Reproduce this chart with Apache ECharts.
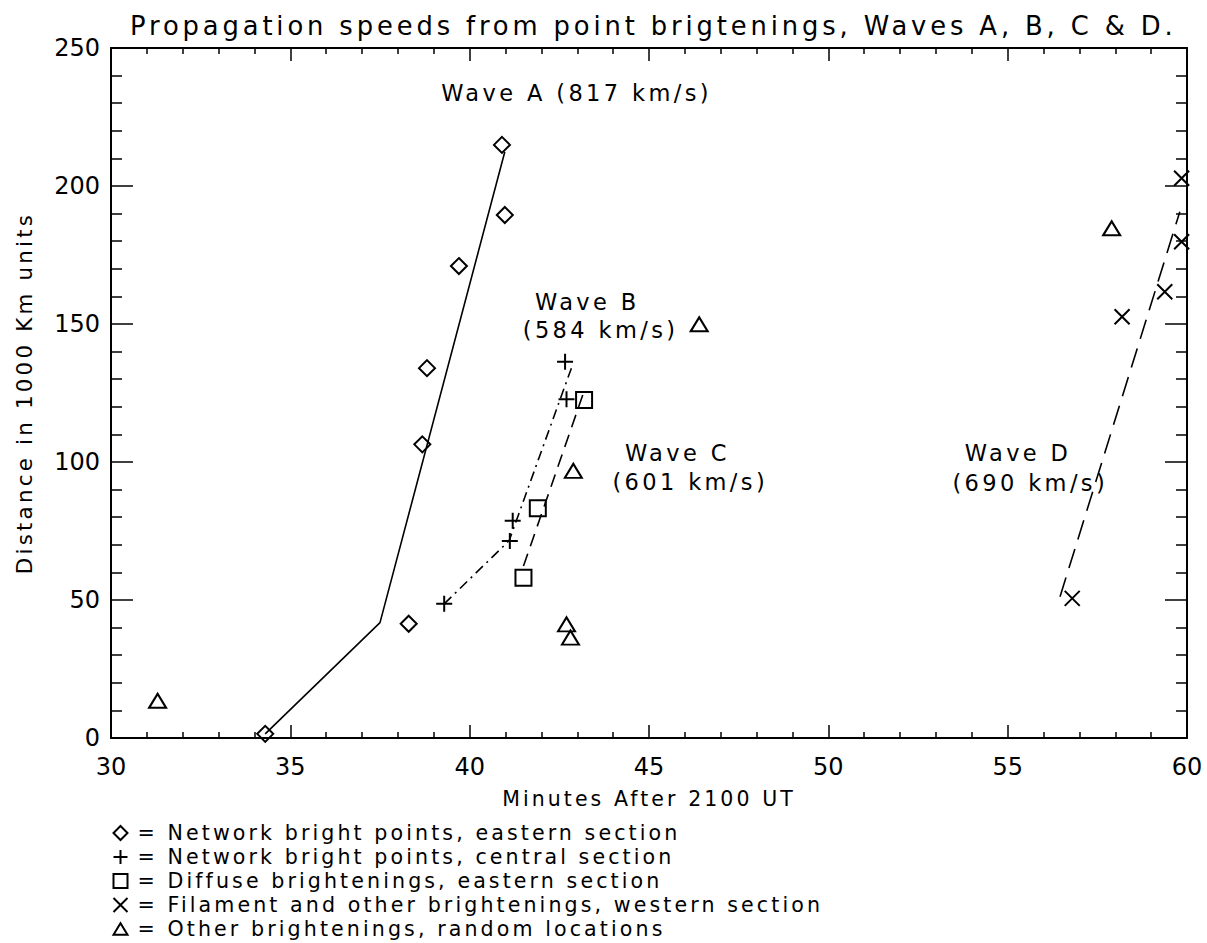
<!DOCTYPE html>
<html>
<head>
<meta charset="utf-8">
<script src="https://cdn.jsdelivr.net/npm/echarts@6/dist/echarts.min.js"></script>
<style>
html,body{margin:0;padding:0;background:#fff;}
#c{width:1207px;height:943px;}
#c svg text[style*="spc"], #c svg text[font-family*="spc"]{letter-spacing:0.15em;}
</style>
</head>
<body>
<div id="c"></div>
<script>
// ---- data (minutes after 2100 UT, distance in 1000 km) ----
const diamondPts = [[34.3,1.5],[38.3,41.4],[38.68,106.4],[38.81,134],[39.7,171],[40.98,189.5],[40.9,214.9]];
const plusPts = [[39.29,48.6],[41.12,71.4],[41.2,78.7],[42.7,122.7],[42.66,136.3]];
const squarePts = [[41.5,58.1],[41.9,83.2],[43.19,122.5]];
const crossPts = [[56.8,50.6],[58.19,152.6],[59.38,161.7],[59.85,179.8],[59.85,202.8]];
const trianglePts = [[31.3,13.5],[42.7,41.2],[42.81,36.4],[42.89,96.8],[46.4,149.9],[57.9,184.7]];
const waveALine = [[34.3,1.5],[37.5,41.8],[40.98,212.4]];
const waveBLine = [[39.29,48.6],[41.1,71.5],[42.85,134.5]];
const waveCLine = [[41.5,62.3],[43.17,124.9]];
const waveDLine = [[56.46,51.2],[59.8,190.7]];
const waveLabels = [
  [42.98,233.7,'Wave A (817 km/s)'],
  [43.28,158.1,'Wave B'],
  [43.65,147.8,'(584 km/s)'],
  [45.79,103.3,'Wave C'],
  [46.15,92.9,'(601 km/s)'],
  [55.29,103.3,'Wave D'],
  [55.63,92.4,'(690 km/s)']
];
const seriesNames = [
  'Network bright points, eastern section',
  'Network bright points, central section',
  'Diffuse brightenings, eastern section',
  'Filament and other brightenings, western section',
  'Other brightenings, random locations'
];
const titleText = 'Propagation speeds from point brigtenings, Waves A, B, C & D.';
const xName = 'Minutes After 2100 UT';
const yName = 'Distance in 1000 Km units';

const FONT = 'DejaVu Sans';
const WIDE = 'DejaVu Sans, spc';
const markStyle = {color:'none', borderColor:'#000', borderWidth:2, opacity:1};
function sc(name, data, symbol, size){
  return {type:'scatter', name, data, symbol, symbolSize:size, itemStyle:markStyle,
          clip:false, z:5, emphasis:{disabled:true}};
}
function ln(data, type){
  return {type:'line', data, showSymbol:false, symbol:'none', lineStyle:{color:'#000', width:1.6, type},
          emphasis:{disabled:true}, silent:true, z:3};
}
const boxAxisX = (pos, labels) => ({
  type:'value', min:30, max:60, interval:5, position:pos,
  axisLine:{show:true, onZero:false, lineStyle:{color:'#000', width:2}},
  axisTick:{show:true, inside:true, length:13, lineStyle:{color:'#000', width:1.5}},
  minorTick:{show:true, splitNumber:5, length:6, lineStyle:{color:'#000', width:1.5}},
  splitLine:{show:false},
  axisLabel:{show:labels, color:'#000', fontFamily:FONT, fontSize:24, margin:17},
  name: labels ? xName : '', nameLocation:'middle', nameGap:50,
  nameTextStyle:{color:'#000', fontFamily:WIDE, fontSize:20.5}
});
const boxAxisY = (pos, labels) => ({
  type:'value', min:0, max:250, interval:50, position:pos,
  axisLine:{show:true, onZero:false, lineStyle:{color:'#000', width:2}},
  axisTick:{show:true, inside:true, length:22, lineStyle:{color:'#000', width:1.5}},
  minorTick:{show:true, splitNumber:5, length:11, lineStyle:{color:'#000', width:1.5}},
  splitLine:{show:false},
  axisLabel:{show:labels, color:'#000', fontFamily:FONT, fontSize:24, margin:11},
  name: labels ? yName : '', nameLocation:'middle', nameGap:76,
  nameTextStyle:{color:'#000', fontFamily:WIDE, fontSize:21.4}
});

const chart = echarts.init(document.getElementById('c'), null, {renderer:'svg'});
chart.setOption({
  backgroundColor:'#fff',
  animation:false,
  title:{text:titleText, left:125, top:8,
         textStyle:{color:'#000', fontFamily:WIDE, fontWeight:'normal', fontSize:25.8}},
  grid:{left:111, right:20, top:48, bottom:205},
  xAxis:[boxAxisX('bottom', true), boxAxisX('top', false)],
  yAxis:[boxAxisY('left', true), boxAxisY('right', false)],
  legend:{orient:'vertical', left:111, top:821, padding:0, itemGap:0, itemWidth:14, itemHeight:14,
          selectedMode:false, data:seriesNames,
          formatter: n => '= ' + n,
          textStyle:{color:'#000', fontFamily:WIDE, fontSize:20.6, lineHeight:24, padding:[0,0,0,5]}},
  series:[
    ln(waveALine,'solid'),
    ln(waveBLine,[10,5,2,5]),
    ln(waveCLine,[13,8]),
    ln(waveDLine,[20,10]),
    sc(seriesNames[0], diamondPts, 'path://M0,-1L1,0L0,1L-1,0Z', 16),
    sc(seriesNames[1], plusPts, 'path://M0,-1V1M-1,0H1', 16),
    sc(seriesNames[2], squarePts, 'path://M0,0H1V1H0Z', 16),
    sc(seriesNames[3], crossPts, 'path://M-1,-1L1,1M-1,1L1,-1', 15),
    sc(seriesNames[4], trianglePts, 'path://M0,0L8.5,-14L17,0Z', [17,14]),
    {type:'scatter', data:waveLabels, symbolSize:0, silent:true, z:6, itemStyle:{opacity:1},
     label:{show:true, position:'inside', formatter:p => p.data[2], color:'#000',
            fontFamily:WIDE, fontSize:22.5}}
  ]
});
</script>
</body>
</html>
